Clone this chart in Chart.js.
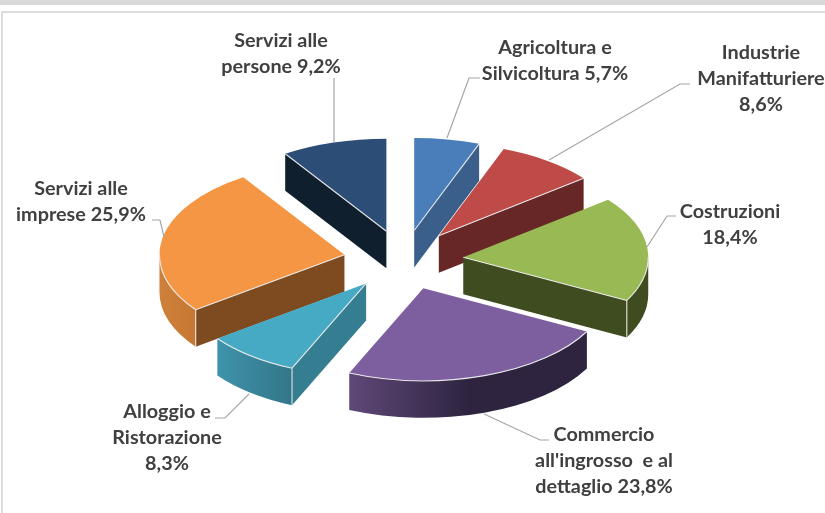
<!DOCTYPE html>
<html>
<head>
<meta charset="utf-8">
<script src="https://cdn.jsdelivr.net/npm/chart.js@4"></script>
<style>
html,body{margin:0;padding:0;background:#fff}
#wrap{position:relative;width:825px;height:513px}
canvas{display:block;filter:blur(0.4px)}
</style>
</head>
<body>
<div id="wrap"><canvas id="c" width="825" height="513"></canvas></div>
<script>
const categories = ["Agricoltura e Silvicoltura","Industrie Manifatturiere","Costruzioni","Commercio all'ingrosso e al dettaglio","Alloggio e Ristorazione","Servizi alle imprese","Servizi alle persone"];
const values = [5.7, 8.6, 18.4, 23.8, 8.3, 25.9, 9.2];
const labelLines = [
  ["Agricoltura e","Silvicoltura 5,7%"],
  ["Industrie","Manifatturiere","8,6%"],
  ["Costruzioni","18,4%"],
  ["Commercio","all'ingrosso  e al","dettaglio 23,8%"],
  ["Alloggio e","Ristorazione","8,3%"],
  ["Servizi alle","imprese 25,9%"],
  ["Servizi alle","persone 9,2%"]
];
const topColors = ["#4A7EBB","#BE4B48","#98B954","#7D5FA0","#46AAC4","#F59644","#2C4D75"];
const cutColors = ["#3A5F8B","#672727","#3F4C20","#2E2440","#357D91","#7E4B20","#101F2E"];
const rimColors = [["#3A5F8B","#3A5F8B"],["#672727","#672727"],["#3F4C20","#3F4C20"],["#5F4878","#2E2440","#2E2440"],["#3E93AB","#337689"],["#CF803A","#C67833"],["#101F2E","#101F2E"]];

// layout of the drawing (not data)
const drawOrder = [6,0,1,5,2,4,3];
const SQUASH = 0.5, EXPLODE = 60, DEPTH = 37, RADIUS = 185;
const labelPos = [[555,48],[761,53],[730,212],[604,435],[167,412],[81,189],[281,41]];
const LINE_GAP = 26;
const leaders = [
  [[480,78],[469,78],[447,138]],
  [[690,84],[680,84],[549,160]],
  [[676,216],[667,216],[647,247]],
  [[549,440],[540,440],[484,414]],
  [[215,418],[225,418],[249,394]],
  [[152,220],[160,220],[164,237]],
  [[334,78],[334,142]]
];

const pie3d = {
  id:'pie3d',
  beforeDraw(chart){
    const c = chart.ctx;
    c.save();
    c.fillStyle='#fff'; c.fillRect(0,0,825,513);
    c.fillStyle='#D9D9D9'; c.fillRect(0,0,825,5);
    c.fillStyle='#DDDDDD'; c.fillRect(1,11,824,2); c.fillRect(1,11,2,502);
    c.restore();
  },
  beforeDatasetDraw(chart,args){
    const c = chart.ctx, arcs = chart.getDatasetMeta(args.index).data;
    const EDGE = 'rgba(235,235,235,0.95)';
    drawOrder.forEach(i=>{
      const el = arcs[i], a0 = el.startAngle, a1 = el.endAngle, mid=(a0+a1)/2;
      const R = el.outerRadius;
      const ox = el.x + EXPLODE*Math.cos(mid), oy = el.y + EXPLODE*SQUASH*Math.sin(mid);
      const P = a => [ox + R*Math.cos(a), oy + R*SQUASH*Math.sin(a)];
      const quad = a => {
        const p = P(a);
        c.beginPath(); c.moveTo(ox,oy); c.lineTo(p[0],p[1]); c.lineTo(p[0],p[1]+DEPTH); c.lineTo(ox,oy+DEPTH); c.closePath();
        c.fillStyle = cutColors[i]; c.fill();
      };
      const showStart = Math.cos(a0) < 0, showEnd = Math.cos(a1) > 0;
      if(showStart) quad(a0);
      if(showEnd) quad(a1);
      // outer rim, only the part facing the viewer
      const r0 = Math.max(a0,0), r1 = Math.min(a1,Math.PI);
      const hasRim = r1 > r0;
      if(hasRim){
        const pa = P(r0), pb = P(r1);
        const g = c.createLinearGradient(Math.min(pa[0],pb[0]),0,Math.max(pa[0],pb[0]),0);
        const stops = rimColors[i];
        stops.forEach((col,k)=> g.addColorStop(k/(stops.length-1),col));
        c.beginPath();
        c.ellipse(ox,oy,R,R*SQUASH,0,r0,r1,false);
        c.ellipse(ox,oy+DEPTH,R,R*SQUASH,0,r1,r0,true);
        c.closePath();
        c.fillStyle=g; c.fill();
      }
      // top face: the library's own arc element, squashed and moved out
      c.save();
      c.translate(0,el.y); c.scale(1,SQUASH); c.translate(0,-el.y);
      c.translate(EXPLODE*Math.cos(mid),EXPLODE*Math.sin(mid));
      el.draw(c);
      c.restore();
      // light bevel edges
      c.save();
      c.strokeStyle=EDGE; c.lineWidth=1.1;
      const cut = a => { const p=P(a); c.beginPath(); c.moveTo(ox,oy); c.lineTo(p[0],p[1]); c.stroke(); };
      if(showStart) cut(a0);
      if(showEnd) cut(a1);
      if(hasRim){
        c.beginPath(); c.ellipse(ox,oy,R,R*SQUASH,0,r0,r1,false); c.stroke();
        const vert = a => { const p=P(a); c.beginPath(); c.moveTo(p[0],p[1]); c.lineTo(p[0],p[1]+DEPTH); c.stroke(); };
        if(showStart && r0===a0) vert(a0);
        if(showEnd && r1===a1) vert(a1);
      }
      c.restore();
    });
    return false;
  },
  afterDatasetsDraw(chart){
    const c = chart.ctx;
    c.save();
    c.strokeStyle='#A6A6A6'; c.lineWidth=1.2;
    leaders.forEach(pts=>{
      c.beginPath();
      pts.forEach((p,k)=> k? c.lineTo(p[0],p[1]) : c.moveTo(p[0],p[1]));
      c.stroke();
    });
    c.fillStyle='#404040';
    c.font='bold 19.8px Lato, "Noto Sans", sans-serif';
    c.textAlign='center'; c.textBaseline='middle';
    labelLines.forEach((lines,i)=>{
      lines.forEach((t,k)=> c.fillText(t,labelPos[i][0],labelPos[i][1]+k*LINE_GAP));
    });
    c.restore();
  }
};

new Chart(document.getElementById('c'),{
  type:'pie',
  data:{labels:categories,datasets:[{data:values,backgroundColor:topColors,borderWidth:0,radius:RADIUS}]},
  options:{
    responsive:false,animation:false,
    layout:{padding:{top:7,right:18}},
    plugins:{legend:{display:false},tooltip:{enabled:false},title:{display:false}}
  },
  plugins:[pie3d]
});
</script>
</body>
</html>
